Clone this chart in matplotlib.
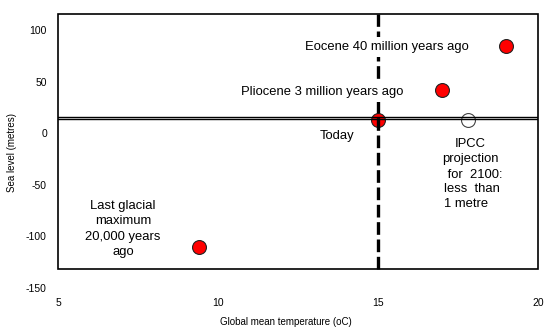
import matplotlib
matplotlib.use("Agg")
import matplotlib.pyplot as plt
from matplotlib.patches import Rectangle

# Past climates: global mean temperature (oC) vs sea level (metres)
periods = ["Last glacial maximum", "Today", "Pliocene", "Eocene"]
temps = [9.4, 15.0, 17.0, 19.0]
levels = [-110, 13, 42, 84]

# IPCC projection for 2100 (open marker)
ipcc_temp = [17.8]
ipcc_level = [13]

today_temp = 15.0
today_band = [14.2, 15.8]   # double line marking present sea level

x_ticks = [5, 10, 15, 20]
y_ticks = [-150, -100, -50, 0, 50, 100]

plt.rcParams["font.family"] = ["Liberation Sans", "DejaVu Sans"]
plt.rcParams["axes.unicode_minus"] = False

fig = plt.figure(figsize=(5.53, 3.30), dpi=100)
ax = fig.add_axes([0.1049, 0.1273, 0.868, 0.8294])
ax.set_xlim(5, 20)
ax.set_ylim(-150, 115.2)

for s in ax.spines.values():
    s.set_visible(False)

ax.set_xticks(x_ticks)
ax.set_yticks(y_ticks)
ax.tick_params(length=0, labelsize=7.5)
ax.tick_params(axis="x", pad=7)
ax.tick_params(axis="y", pad=8)

# plot frame stops short of the lowest tick
ax.add_patch(Rectangle((5, -131.8), 15, 115.2 + 131.8, fill=False,
                       edgecolor="black", lw=1.2, zorder=5, clip_on=False))

# markers first, lines drawn over them
ax.plot(temps, levels, "o", ms=10, mfc="#ff0000", mec="#222222",
        mew=0.8, zorder=2)
ax.plot(ipcc_temp, ipcc_level, "o", ms=10, mfc="white", mec="#444444",
        mew=0.8, zorder=2)

for yv in today_band:
    ax.axhline(yv, color="black", lw=1.0, zorder=3)

ax.plot([today_temp, today_temp], [-131.8, 115.2], color="black", lw=2.4,
        dashes=(3.8, 1.4), zorder=3, solid_capstyle="butt")

fs = 9.4
box = dict(facecolor="white", edgecolor="none", pad=3)
ax.text(15.28, 83.8, "Eocene 40 million years ago", fontsize=fs,
        ha="center", va="center", bbox=box, zorder=4)
ax.text(13.25, 39.9, "Pliocene 3 million years ago", fontsize=fs,
        ha="center", va="center", bbox=box, zorder=4)
ax.text(13.72, -2.7, "Today", fontsize=fs, ha="center", va="center", zorder=4)
ax.text(17.875, -18.0, "IPCC\nprojection", fontsize=fs, ha="center",
        va="center", linespacing=1.3, zorder=4)
ax.text(17.06, -54.3, " for  2100:\nless  than\n1 metre", fontsize=fs,
        ha="left", va="center", linespacing=1.3, zorder=4)
ax.text(7.03, -92.8, "Last glacial\nmaximum\n20,000 years\nago", fontsize=fs,
        ha="center", va="center", linespacing=1.35, zorder=4)

fig.text(286 / 553, 1 - 322 / 330, "Global mean temperature (oC)",
         fontsize=7, ha="center", va="center")
fig.text(12 / 553, 1 - 152 / 330, "Sea level (metres)", fontsize=7,
         ha="center", va="center", rotation=90)

fig.savefig("out.png", dpi=100)
